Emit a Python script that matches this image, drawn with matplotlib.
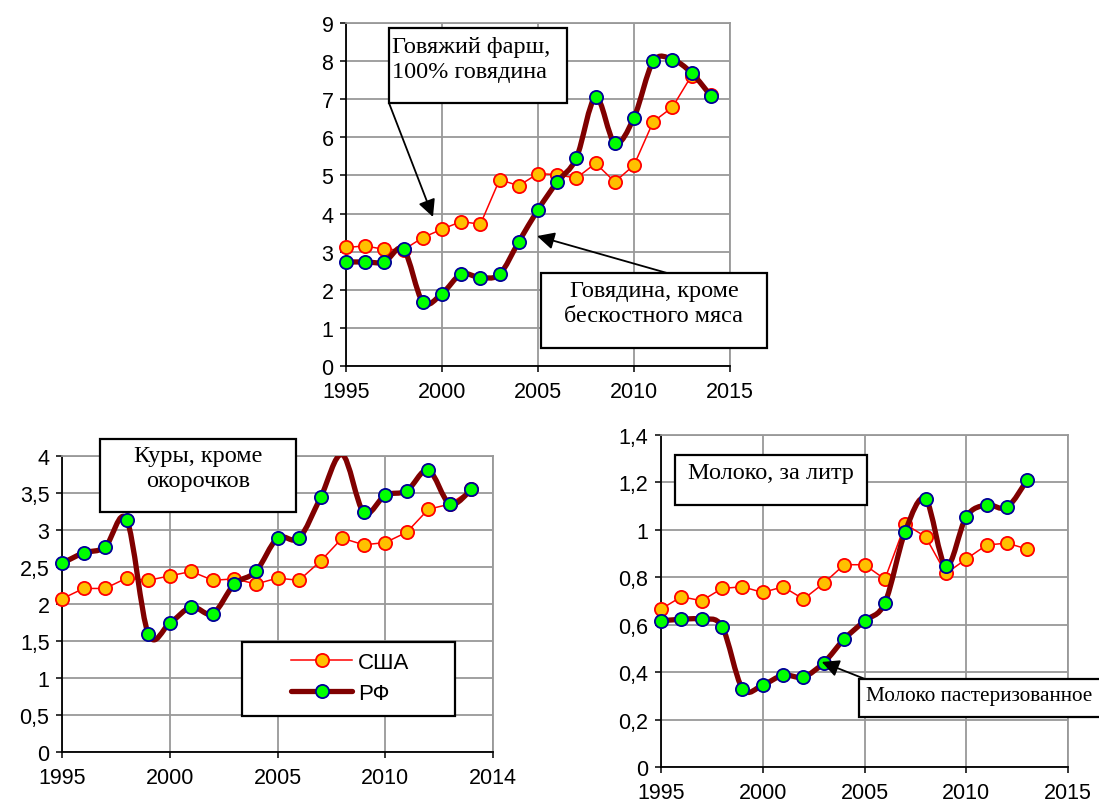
import numpy as np
import matplotlib
matplotlib.use('Agg')
import matplotlib.pyplot as plt
from matplotlib.path import Path
from matplotlib.patches import PathPatch, Rectangle
from matplotlib.lines import Line2D

# ---------------- data ----------------
beef_years = list(range(1995, 2015))
beef_us = [3.11, 3.15, 3.06, 3.05, 3.37, 3.59, 3.79, 3.72, 4.89, 4.73,
           5.05, 5.02, 4.93, 5.32, 4.83, 5.27, 6.41, 6.79, 7.62, 7.10]
beef_rf = [2.73, 2.73, 2.73, 3.06, 1.68, 1.90, 2.41, 2.32, 2.41, 3.26,
           4.10, 4.83, 5.46, 7.05, 5.85, 6.52, 7.99, 8.04, 7.69, 7.09]

chicken_years = list(range(1995, 2015))
chicken_us = [2.07, 2.21, 2.21, 2.35, 2.32, 2.38, 2.44, 2.32, 2.34, 2.27,
              2.35, 2.32, 2.58, 2.89, 2.80, 2.83, 2.97, 3.28, 3.35, 3.55]
chicken_rf = [2.55, 2.69, 2.77, 3.14, 1.60, 1.74, 1.96, 1.87, 2.27, 2.44,
              2.89, 2.89, 3.44, 4.02, 3.24, 3.47, 3.53, 3.81, 3.35, 3.55]
chicken_rf_unmarked_years = [2008]

milk_years = list(range(1995, 2014))
milk_us = [0.666, 0.718, 0.701, 0.753, 0.760, 0.736, 0.760, 0.708, 0.775, 0.853,
           0.853, 0.792, 1.024, 0.971, 0.816, 0.877, 0.936, 0.944, 0.919]
milk_rf = [0.616, 0.623, 0.623, 0.592, 0.331, 0.346, 0.387, 0.380, 0.440, 0.539,
           0.616, 0.692, 0.993, 1.130, 0.846, 1.055, 1.105, 1.095, 1.211]

x_ticks = [1995, 2000, 2005, 2010, 2015]
x_labels_top = ['1995', '2000', '2005', '2010', '2015']
x_labels_chicken = ['1995', '2000', '2005', '2010', '2014']
x_labels_milk = ['1995', '2000', '2005', '2010', '2015']

beef_yticks = list(range(0, 10))
beef_ylabels = [str(v) for v in beef_yticks]
chicken_yticks = [0, 0.5, 1, 1.5, 2, 2.5, 3, 3.5, 4]
chicken_ylabels = ['0', '0,5', '1', '1,5', '2', '2,5', '3', '3,5', '4']
milk_yticks = [0, 0.2, 0.4, 0.6, 0.8, 1.0, 1.2, 1.4]
milk_ylabels = ['0', '0,2', '0,4', '0,6', '0,8', '1', '1,2', '1,4']

legend_labels = ['США', 'РФ']

# ---------------- style ----------------
W, H = 1099, 803
SANS = ['Liberation Sans', 'DejaVu Sans']
SERIF = ['Liberation Serif', 'DejaVu Serif']
RED = '#FF0000'
ORANGE = '#FFC000'
BROWN = '#800000'
GREEN = '#00FF00'
NAVY = '#000099'
GRID = '#999999'
TICK_FS = 15.5

fig = plt.figure(figsize=(W / 100, H / 100), dpi=100)


def fx(px):
    return px / W


def fy(py):
    return 1 - py / H


def make_ax(left, top, right, bottom):
    return fig.add_axes([fx(left), fy(bottom), fx(right) - fx(left), fy(top) - fy(bottom)])


def smooth_path(x, y):
    x = np.asarray(x, float)
    y = np.asarray(y, float)
    n = len(x)
    verts = [(x[0], y[0])]
    codes = [Path.MOVETO]
    for i in range(n - 1):
        xm, ym = (x[i - 1], y[i - 1]) if i > 0 else (x[i], y[i])
        x2, y2 = (x[i + 2], y[i + 2]) if i + 2 < n else (x[i + 1], y[i + 1])
        c1 = (x[i] + (x[i + 1] - xm) / 6, y[i] + (y[i + 1] - ym) / 6)
        c2 = (x[i + 1] - (x2 - x[i]) / 6, y[i + 1] - (y2 - y[i]) / 6)
        verts += [c1, c2, (x[i + 1], y[i + 1])]
        codes += [Path.CURVE4] * 3
    return Path(verts, codes)


def style_ax(ax, ylim, yticks, ylabels, xlabels, fs):
    ax.set_xlim(1995, 2015)
    ax.set_ylim(*ylim)
    ax.set_xticks(x_ticks)
    ax.set_xticklabels(xlabels, fontsize=fs, family=SANS)
    ax.set_yticks(yticks)
    ax.set_yticklabels(ylabels, fontsize=fs, family=SANS)
    ax.grid(True, color=GRID, lw=1.3, zorder=0)
    ax.set_axisbelow(True)
    for s in ['top', 'right']:
        ax.spines[s].set_color(GRID)
        ax.spines[s].set_linewidth(1.3)
    for s in ['left', 'bottom']:
        ax.spines[s].set_color('black')
        ax.spines[s].set_linewidth(1.3)
    ax.tick_params(direction='out', length=4.5, width=1.1, color='black')
    ax.tick_params(axis='x', pad=6.5)
    ax.tick_params(axis='y', pad=4.5)


def draw_series(ax, years, us, rf, rf_skip=()):
    ax.plot(years, us, color=RED, lw=1.1, marker='o', ms=9.5, mfc=ORANGE,
            mec=RED, mew=1.3, zorder=3, clip_on=False)
    ax.add_patch(PathPatch(smooth_path(years, rf), fill=False, edgecolor=BROWN,
                           lw=3.8, capstyle='round', joinstyle='round', zorder=4))
    idx = [i for i, yv in enumerate(years) if yv not in rf_skip]
    ax.plot([years[i] for i in idx], [rf[i] for i in idx], ls='none', marker='o',
            ms=9.5, mfc=GREEN, mec=NAVY, mew=1.3, zorder=5, clip_on=False)


def text_box(x0, y0, x1, y1, text, tx, ty, ha='center', fs=17.5):
    fig.patches.append(Rectangle((fx(x0), fy(y1)), fx(x1) - fx(x0), fy(y0) - fy(y1),
                                 transform=fig.transFigure, facecolor='white',
                                 edgecolor='black', lw=1.6, zorder=10))
    fig.text(fx(tx), fy(ty), text, ha=ha, va='center', fontsize=fs, family=SERIF,
             zorder=11, linespacing=1.25, multialignment=ha)


def arrow(ax, tip_xy, start_px):
    ax.annotate('', xy=tip_xy, xycoords='data',
                xytext=(fx(start_px[0]), fy(start_px[1])), textcoords='figure fraction',
                arrowprops=dict(arrowstyle='-|>', color='black', lw=1.3,
                                mutation_scale=26, shrinkA=0, shrinkB=0),
                annotation_clip=False, zorder=9)


# ---------------- top: beef ----------------
ax1 = make_ax(346, 24, 730, 367)
style_ax(ax1, (0, 9), beef_yticks, beef_ylabels, x_labels_top, TICK_FS)
draw_series(ax1, beef_years, beef_us, beef_rf)
arrow(ax1, (1999.53, 3.91), (389, 104))
arrow(ax1, (2004.95, 3.41), (667, 274))

# ---------------- bottom-left: chicken ----------------
ax2 = make_ax(62, 457, 493, 753)
style_ax(ax2, (0, 4), chicken_yticks, chicken_ylabels, x_labels_chicken, TICK_FS)
draw_series(ax2, chicken_years, chicken_us, chicken_rf, chicken_rf_unmarked_years)

# legend frame
fig.patches.append(Rectangle((fx(242), fy(717)), fx(455) - fx(242), fy(643) - fy(717),
                             transform=fig.transFigure, facecolor='white',
                             edgecolor='black', lw=1.6, zorder=10))
h_us = Line2D([], [], color=RED, lw=1.1, marker='o', ms=9.5, mfc=ORANGE, mec=RED, mew=1.3)
h_rf = Line2D([], [], color=BROWN, lw=3.8, marker='o', ms=9.5, mfc=GREEN, mec=NAVY,
              mew=1.3, solid_capstyle='round')
leg = ax2.legend([h_us, h_rf], legend_labels, loc='center left',
                 bbox_to_anchor=(fx(291), fy(679)), bbox_transform=fig.transFigure,
                 frameon=False, prop={'family': SANS, 'size': 16}, handlelength=2.75,
                 borderpad=0, labelspacing=0.45, handletextpad=0.25,
                 borderaxespad=0)
leg.set_zorder(12)
fig.legends.append(leg)
ax2.legend_ = None

# ---------------- bottom-right: milk ----------------
ax3 = make_ax(661, 436, 1068, 768)
style_ax(ax3, (0, 1.4), milk_yticks, milk_ylabels, x_labels_milk, TICK_FS)
draw_series(ax3, milk_years, milk_us, milk_rf)
arrow(ax3, (2002.9, 0.443), (865, 680))

# ---------------- text boxes ----------------
text_box(389, 29, 567, 104, 'Говяжий фарш,\n100% говядина', 392, 60, ha='left')
text_box(541, 274, 767, 349, 'Говядина, кроме\nбескостного мяса', 654, 304)
text_box(100, 440, 296, 513, 'Куры, кроме\nокорочков', 198, 469)
text_box(675, 456, 867, 506, 'Молоко, за литр', 771, 474)
text_box(859, 680, 1105, 718, 'Молоко пастеризованное', 979, 697, fs=15.3)

fig.savefig('out.png', dpi=100)
